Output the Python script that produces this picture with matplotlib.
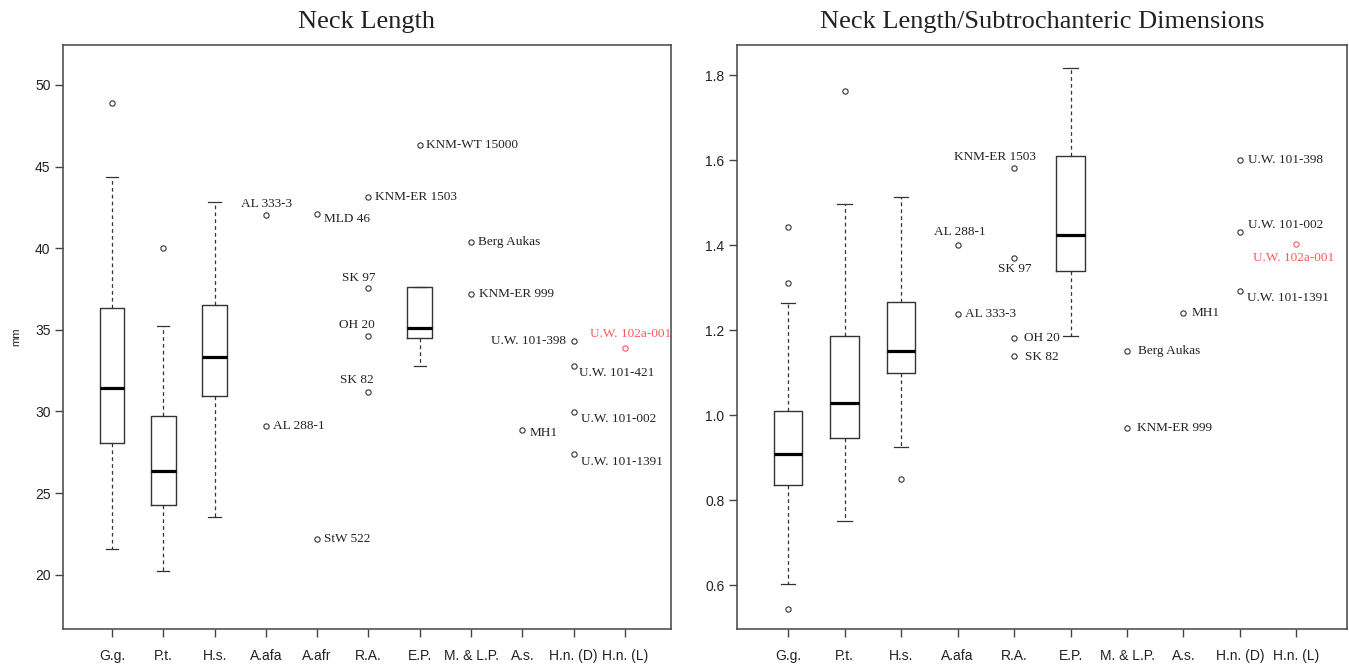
import matplotlib
matplotlib.use("Agg")
import matplotlib.pyplot as plt

# ---- Neck length (mm) ----
nl_groups = ['G.g.', 'P.t.', 'H.s.', 'A.afa', 'A.afr', 'R.A.', 'E.P.',
             'M. & L.P.', 'A.s.', 'H.n. (D)', 'H.n. (L)']
nl_box_groups = ['G.g.', 'P.t.', 'H.s.', 'E.P.']
nl_whislo = [21.58, 20.25, 23.55, 32.80]
nl_q1 = [28.06, 24.29, 30.95, 34.51]
nl_med = [31.44, 26.33, 33.31, 35.10]
nl_q3 = [36.35, 29.73, 36.49, 37.63]
nl_whishi = [44.36, 35.23, 42.81, 37.63]
nl_fliers = [[48.88], [39.99], [], []]

nl_names = ['AL 333-3', 'AL 288-1', 'MLD 46', 'StW 522', 'KNM-ER 1503', 'SK 97',
            'OH 20', 'SK 82', 'KNM-WT 15000', 'Berg Aukas', 'KNM-ER 999', 'MH1',
            'U.W. 101-398', 'U.W. 101-421', 'U.W. 101-002', 'U.W. 101-1391',
            'U.W. 102a-001']
nl_spec_group = ['A.afa', 'A.afa', 'A.afr', 'A.afr', 'R.A.', 'R.A.', 'R.A.', 'R.A.',
                 'E.P.', 'M. & L.P.', 'M. & L.P.', 'A.s.', 'H.n. (D)', 'H.n. (D)',
                 'H.n. (D)', 'H.n. (D)', 'H.n. (L)']
nl_values = [42.01, 29.12, 42.10, 22.19, 43.11, 37.53, 34.62, 31.19, 46.31, 40.39,
             37.21, 28.89, 34.29, 32.80, 29.99, 27.42, 33.88]

# ---- Neck length / subtrochanteric dimensions ----
ns_groups = ['G.g.', 'P.t.', 'H.s.', 'A.afa', 'R.A.', 'E.P.',
             'M. & L.P.', 'A.s.', 'H.n. (D)', 'H.n. (L)']
ns_box_groups = ['G.g.', 'P.t.', 'H.s.', 'E.P.']
ns_whislo = [0.602, 0.750, 0.924, 1.187]
ns_q1 = [0.835, 0.947, 1.100, 1.340]
ns_med = [0.908, 1.029, 1.151, 1.423]
ns_q3 = [1.010, 1.187, 1.267, 1.610]
ns_whishi = [1.264, 1.496, 1.514, 1.816]
ns_fliers = [[1.443, 1.311, 0.544], [1.762], [0.849], []]

ns_names = ['AL 288-1', 'AL 333-3', 'KNM-ER 1503', 'SK 97', 'OH 20', 'SK 82',
            'Berg Aukas', 'KNM-ER 999', 'MH1', 'U.W. 101-398', 'U.W. 101-002',
            'U.W. 101-1391', 'U.W. 102a-001']
ns_spec_group = ['A.afa', 'A.afa', 'R.A.', 'R.A.', 'R.A.', 'R.A.', 'M. & L.P.',
                 'M. & L.P.', 'A.s.', 'H.n. (D)', 'H.n. (D)', 'H.n. (D)', 'H.n. (L)']
ns_values = [1.401, 1.239, 1.581, 1.370, 1.181, 1.140, 1.150, 0.970, 1.240,
             1.601, 1.431, 1.291, 1.402]

highlight = 'U.W. 102a-001'

# label placement: (dx px, dy px, ha)
nl_place = {
    'AL 333-3': (1, 11.7, 'center'), 'AL 288-1': (7, 0, 'left'),
    'MLD 46': (7, -4.7, 'left'), 'StW 522': (7, 0, 'left'),
    'KNM-ER 1503': (6.3, 0, 'left'), 'SK 97': (7.3, 10.5, 'right'),
    'OH 20': (6.6, 11, 'right'), 'SK 82': (5.3, 12.4, 'right'),
    'KNM-WT 15000': (6, 0, 'left'), 'Berg Aukas': (6.6, 0, 'left'),
    'KNM-ER 999': (7.6, 0, 'left'), 'MH1': (7, -3.4, 'left'),
    'U.W. 101-398': (-7.7, 0, 'right'), 'U.W. 101-421': (5.3, -7, 'left'),
    'U.W. 101-002': (7.3, -7.7, 'left'), 'U.W. 101-1391': (7.3, -8.4, 'left'),
    'U.W. 102a-001': (5.7, 14.4, 'center'),
}
ns_place = {
    'AL 288-1': (2, 12.4, 'center'), 'AL 333-3': (7, 0, 'left'),
    'KNM-ER 1503': (-19, 11.3, 'center'), 'SK 97': (1, -11.6, 'center'),
    'OH 20': (10, 0, 'left'), 'SK 82': (11, -1.7, 'left'),
    'Berg Aukas': (10.7, 0, 'left'), 'KNM-ER 999': (10.3, 0, 'left'),
    'MH1': (8.4, 0, 'left'), 'U.W. 101-398': (8.4, 0, 'left'),
    'U.W. 101-002': (8, 7.4, 'left'), 'U.W. 101-1391': (7, -7, 'left'),
    'U.W. 102a-001': (-2.4, -13.4, 'center'),
}

INK = '#222222'
RED = '#ff5a5a'
PX = 0.72  # points per pixel at dpi 100

plt.rcParams['font.family'] = 'Liberation Sans'


def draw_panel(ax, groups, box_groups, whislo, q1, med, q3, whishi, fliers,
               names, spec_group, values, place, width):
    stats = []
    for i, g in enumerate(box_groups):
        stats.append(dict(med=med[i], q1=q1[i], q3=q3[i], whislo=whislo[i],
                          whishi=whishi[i], fliers=fliers[i], label=g))
    pos = [groups.index(g) + 1 for g in box_groups]
    ax.bxp(stats, positions=pos, widths=width, capwidths=width / 2,
           boxprops=dict(color='#333333', linewidth=1.0),
           medianprops=dict(color='black', linewidth=2.3),
           whiskerprops=dict(color='#333333', linewidth=0.9, linestyle=(0, (3, 2.5))),
           capprops=dict(color='#333333', linewidth=0.9),
           flierprops=dict(marker='o', markersize=3.8, markerfacecolor='none',
                           markeredgecolor='#333333', markeredgewidth=0.8),
           manage_ticks=False)
    for n, g, v in zip(names, spec_group, values):
        x = groups.index(g) + 1
        col = RED if n == highlight else '#333333'
        tcol = RED if n == highlight else INK
        ax.plot([x], [v], 'o', ms=3.8, mfc='none', mec=col, mew=0.8)
        dx, dy, ha = place[n]
        ax.annotate(n, (x, v), xytext=(dx * PX, dy * PX), textcoords='offset points',
                    ha=ha, va='center', fontsize=9.5, color=tcol,
                    family='Liberation Serif')
    ax.set_xticks(range(1, len(groups) + 1))
    ax.set_xticklabels(groups)
    for s in ax.spines.values():
        s.set_color('#444444')
        s.set_linewidth(1.1)
    ax.tick_params(axis='both', colors='#444444', labelcolor=INK, labelsize=10,
                   length=5.5, width=1.0)
    ax.tick_params(axis='x', pad=9)


fig = plt.figure(figsize=(13.49, 6.64), dpi=100)
ax1 = fig.add_axes([63 / 1349, 1 - 629 / 664, (671 - 63) / 1349, (629 - 45) / 664])
ax2 = fig.add_axes([737 / 1349, 1 - 629 / 664, (1347 - 737) / 1349, (629 - 45) / 664])

draw_panel(ax1, nl_groups, nl_box_groups, nl_whislo, nl_q1, nl_med, nl_q3, nl_whishi,
           nl_fliers, nl_names, nl_spec_group, nl_values, nl_place, 0.48)
ax1.set_xlim(0.045, 11.897)
ax1.set_ylim(16.68, 52.44)
ax1.set_yticks([20, 25, 30, 35, 40, 45, 50])
ax1.set_ylabel('mm', fontsize=8, color=INK, labelpad=10)
ax1.set_title('Neck Length', fontsize=19, family='Liberation Serif', color=INK, pad=12)

draw_panel(ax2, ns_groups, ns_box_groups, ns_whislo, ns_q1, ns_med, ns_q3, ns_whishi,
           ns_fliers, ns_names, ns_spec_group, ns_values, ns_place, 0.5)
ax2.set_xlim(0.097, 10.894)
ax2.set_ylim(0.4965, 1.871)
ax2.set_yticks([0.6, 0.8, 1.0, 1.2, 1.4, 1.6, 1.8])
ax2.set_yticklabels(['0.6', '0.8', '1.0', '1.2', '1.4', '1.6', '1.8'])
ax2.set_title('Neck Length/Subtrochanteric Dimensions', fontsize=19,
              family='Liberation Serif', color=INK, pad=12)

fig.savefig('out.png', dpi=100)
